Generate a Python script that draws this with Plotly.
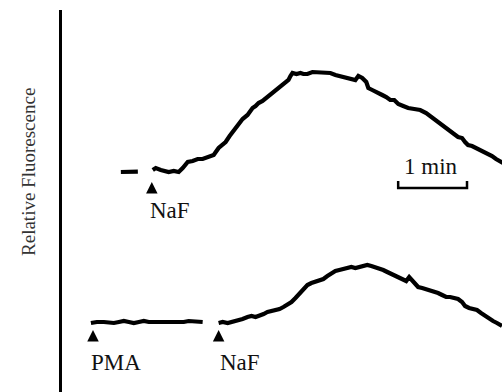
import plotly.graph_objects as go

# Time in seconds from the left axis, relative fluorescence in arbitrary units
top_pre_t = [51.3, 55.7, 60.0, 66.1]
top_pre_f = [55.0, 55.1, 55.0, 55.1]

top_t = [79.1, 81.7, 86.1, 89.6, 93.0, 97.4, 101.7, 105.2, 109.6, 113.9, 118.3, 122.6,
         127.0, 132.2, 136.5, 140.0, 142.6, 146.1, 148.7, 151.3, 153.9, 157.4, 161.7,
         164.4, 166.1, 168.7, 171.3, 174.8, 179.1, 181.7, 184.4, 187.8, 192.2, 194.8,
         197.4, 199.1, 200.9, 204.4, 207.8, 210.4, 213.9, 218.3, 221.7, 225.2, 229.6,
         233.9, 238.3, 242.6, 247.0, 251.3, 255.7, 258.3, 261.7, 265.2, 267.0, 270.4,
         274.8, 279.1, 282.6, 286.1, 289.6, 293.1, 297.4, 301.7, 307.0, 312.2, 317.4,
         321.8, 326.1, 329.6, 333.9, 338.3, 341.7, 345.2, 348.7, 351.3, 353.9, 357.4,
         360.9, 364.4, 367.8, 371.3, 374.8, 378.3, 381.7, 384.3]
top_f = [55.5, 56.0, 55.5, 55.25, 55.0, 55.25, 55.0, 56.0, 57.5, 57.75, 58.25, 58.25,
         58.75, 59.25, 61.0, 61.75, 62.5, 64.0, 65.0, 66.0, 67.25, 68.25, 69.25,
         70.25, 71.0, 71.5, 72.25, 72.75, 73.75, 74.25, 75.0, 75.75, 76.75, 77.25,
         78.0, 79.0, 79.75, 79.5, 79.75, 79.5, 79.5, 80.0, 80.0, 79.75, 80.0,
         79.75, 79.25, 79.0, 78.75, 78.25, 78.0, 79.0, 78.5, 77.5, 76.0, 75.5,
         75.0, 74.25, 73.75, 73.0, 73.0, 72.0, 71.5, 71.0, 70.75, 70.5, 69.75,
         68.75, 67.75, 67.0, 66.25, 65.25, 64.5, 63.75, 63.5, 62.5, 61.75, 61.5,
         61.0, 60.5, 60.25, 59.5, 59.0, 58.25, 57.75, 57.25]

bot_pre_t = [25.2, 30.4, 36.5, 40.9, 45.2, 49.6, 53.9, 58.3, 62.6, 67.0, 71.3, 75.7,
             80.0, 84.3, 88.7, 93.0, 97.4, 101.7, 106.1, 110.4, 114.8, 119.1, 122.6]
bot_pre_f = [17.25, 17.5, 17.5, 17.25, 17.25, 17.5, 17.75, 17.5, 17.25, 17.5, 17.75, 17.5,
             17.5, 17.25, 17.25, 17.5, 17.5, 17.25, 17.5, 17.75, 17.75, 17.5, 17.5]

bot_t = [136.5, 140.0, 144.4, 148.7, 153.0, 157.4, 161.7, 165.2, 168.7, 172.2, 175.7,
         179.1, 182.6, 186.1, 189.6, 193.0, 196.5, 200.0, 203.5, 207.0, 210.4, 213.9,
         217.4, 220.9, 224.4, 227.8, 231.3, 234.8, 238.3, 241.7, 245.2, 248.7, 252.2,
         255.7, 259.1, 262.6, 266.1, 269.6, 273.0, 276.5, 280.0, 283.5, 287.0, 290.4,
         293.9, 297.4, 300.0, 302.6, 305.2, 307.8, 310.4, 313.9, 317.4, 320.9, 324.3,
         327.8, 331.3, 334.8, 338.3, 341.7, 345.2, 348.7, 351.3, 354.8, 358.3, 361.7,
         365.2, 368.7, 372.2, 375.7, 379.1, 383.5]
bot_f = [17.25, 17.5, 17.25, 17.5, 17.75, 18.25, 18.75, 19.0, 18.75, 19.0, 19.5,
         20.0, 20.25, 20.25, 20.75, 21.25, 21.75, 22.5, 23.5, 24.5, 25.5, 26.75,
         27.25, 27.5, 27.75, 28.25, 29.0, 29.75, 30.25, 30.5, 30.75, 31.0, 31.25,
         31.0, 31.25, 31.5, 31.75, 31.5, 31.25, 30.75, 30.5, 30.0, 29.5, 29.0,
         28.75, 28.0, 27.75, 28.75, 28.0, 27.0, 26.25, 26.0, 25.75, 25.5, 25.25,
         24.75, 24.25, 23.75, 23.75, 23.5, 23.25, 22.5, 21.5, 21.0, 20.75, 20.5,
         19.75, 19.0, 18.25, 17.75, 17.25, 16.5]

# Events: label, time, arrow tip level, label position
event_labels = ["NaF", "PMA", "NaF"]
event_t = [78.3, 27.0, 136.5]
event_tip = [52.5, 15.5, 15.5]
label_t = [74.8, 23.5, 135.7]
label_f = [45.5, 7.5, 7.5]

# Scale bar
bar_start = 293.0
bar_len = 60.0
bar_level = 51.0
bar_tick = 1.75

X_RANGE = [0, 383.5]
Y_RANGE = [0, 95.5]
FONT = "Liberation Serif"

fig = go.Figure()
line = dict(color="black", width=4.2)
for xs, ys in [(top_pre_t, top_pre_f), (top_t, top_f), (bot_pre_t, bot_pre_f), (bot_t, bot_f)]:
    fig.add_trace(go.Scatter(x=xs, y=ys, mode="lines", line=line, hoverinfo="skip"))

fig.add_trace(go.Scatter(
    x=[bar_start, bar_start, bar_start + bar_len, bar_start + bar_len],
    y=[bar_level + bar_tick, bar_level, bar_level, bar_level + bar_tick],
    mode="lines", line=dict(color="black", width=2.5)))

for et, ef in zip(event_t, event_tip):
    fig.add_annotation(x=et, y=ef, ax=0, ay=12, showarrow=True, arrowhead=2,
                       arrowsize=1.15, arrowwidth=2, arrowcolor="black", text="")

for lab, lt, lf in zip(event_labels, label_t, label_f):
    fig.add_annotation(x=lt, y=lf, text=lab, showarrow=False, xanchor="left",
                       yanchor="middle", font=dict(family=FONT, size=23, color="#111"))

fig.add_annotation(x=bar_start + bar_len / 2 - 1.5, y=56.5, text="1 min", showarrow=False,
                   xanchor="center", yanchor="middle",
                   font=dict(family=FONT, size=23, color="#111"))

fig.add_annotation(xref="paper", yref="paper", x=-0.075, y=0.576,
                   text="Relative Fluorescence", textangle=-90, showarrow=False,
                   xanchor="center", yanchor="middle",
                   font=dict(family=FONT, size=19, color="#333"))

fig.update_layout(
    width=502, height=392, margin=dict(l=62, r=0, t=10, b=0),
    paper_bgcolor="white", plot_bgcolor="white", showlegend=False,
    xaxis=dict(range=X_RANGE, visible=False, fixedrange=True),
    yaxis=dict(range=Y_RANGE, showline=True, linecolor="black", linewidth=3,
               showticklabels=False, ticks="", showgrid=False, zeroline=False,
               fixedrange=True),
)
fig.write_html("out.html", config={"displayModeBar": False})
